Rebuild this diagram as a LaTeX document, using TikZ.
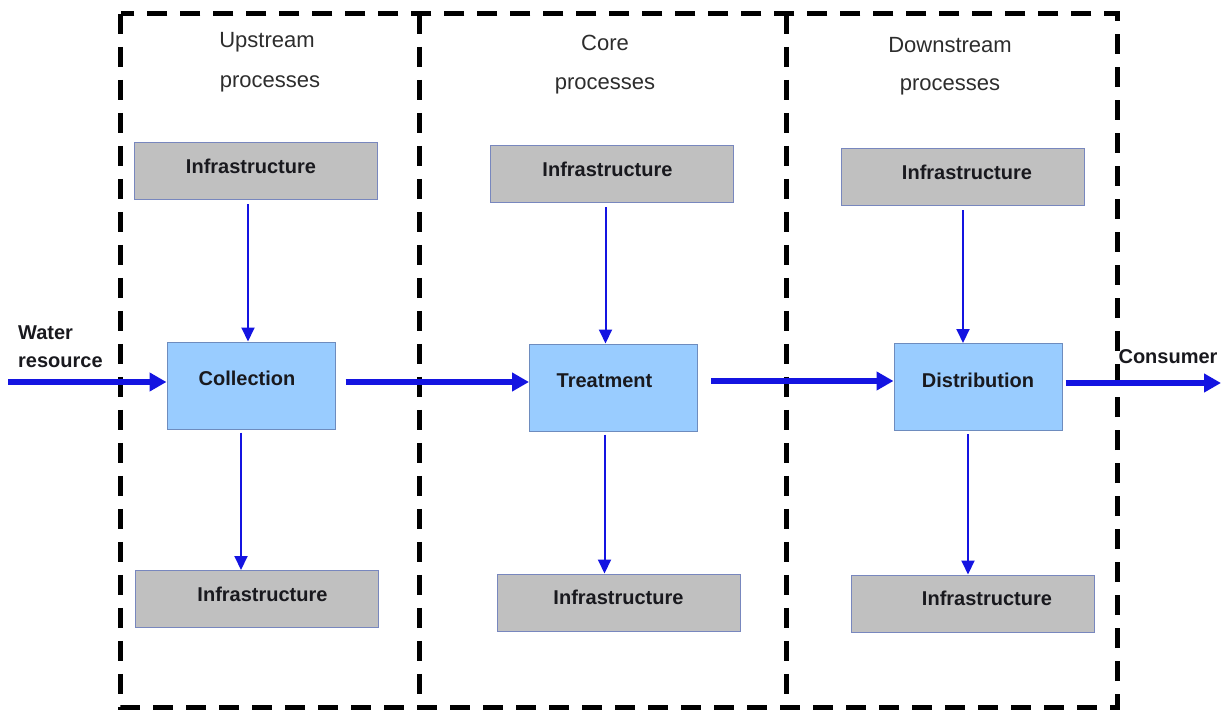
\documentclass[tikz,border=0pt]{standalone}
\usepackage{fontspec}
\setmainfont{Liberation Sans}
\usetikzlibrary{arrows.meta,calc}
\definecolor{flowblue}{RGB}{20,20,225}
\definecolor{infrafill}{RGB}{192,192,192}
\definecolor{infraedge}{RGB}{120,135,190}
\definecolor{procfill}{RGB}{153,204,255}
\definecolor{procedge}{RGB}{110,140,190}
\definecolor{txt}{RGB}{25,25,30}
\definecolor{headtxt}{RGB}{45,45,45}
\tikzset{
  groupbox/.style={inner sep=0pt},
  dashline/.style={draw=black, line width=5pt, dash pattern=on 20pt off 13pt},
  infrabox/.style={draw=infraedge, fill=infrafill, line width=1pt, minimum width=243pt, minimum height=57pt,
    font=\fontsize{20}{24}\selectfont\bfseries, text=txt, text height=14.5pt, text depth=10pt, inner sep=0pt},
  procbox/.style={draw=procedge, fill=procfill, line width=1pt, minimum width=168pt, minimum height=87pt,
    font=\fontsize{20}{24}\selectfont\bfseries, text=txt, text height=14.5pt, text depth=14pt, inner sep=0pt},
  headlbl/.style={font=\fontsize{22}{26}\selectfont, text=headtxt, inner sep=0pt},
  sidelbl/.style={font=\fontsize{20}{28}\selectfont\bfseries, text=txt, inner sep=0pt, align=left},
  flowarrow/.style={draw=flowblue, line width=6pt, -{Triangle[length=17pt,width=18pt]}},
  thinarrow/.style={draw=flowblue, line width=2pt, -{Triangle[length=14pt,width=13pt]}},
}
\begin{document}
\begin{tikzpicture}[x=1pt,y=-1pt]
\useasboundingbox (0,0) rectangle (1223,711);
% process group areas
\node[groupbox, minimum width=298pt, minimum height=693pt] (g1) at (270,360.5) {};
\node[groupbox, minimum width=367pt, minimum height=693pt] (g2) at (602.5,360.5) {};
\node[groupbox, minimum width=331pt, minimum height=693pt] (g3) at (951.5,360.5) {};
\draw[dashline] (g1.north west) rectangle (g3.south east);
\draw[dashline] (g1.north east) -- (g1.south east);
\draw[dashline] (g2.north east) -- (g2.south east);
% headings
\node[headlbl] (h1a) at (267,42) {Upstream};
\node[headlbl] (h1b) at (270,84) {processes};
\node[headlbl] (h2a) at (605,43) {Core};
\node[headlbl] (h2b) at (605,86) {processes};
\node[headlbl] (h3a) at (950,45) {Downstream};
\node[headlbl] (h3b) at (950,87) {processes};
% infrastructure boxes
\node[infrabox] (t1) at (256,171.5) {\hspace*{-10pt}Infrastructure};
\node[infrabox] (t2) at (611.5,174.5) {\hspace*{-8pt}Infrastructure};
\node[infrabox] (t3) at (963,177.5) {\hspace*{8pt}Infrastructure};
\node[infrabox] (b1) at (256.5,599) {\hspace*{12pt}Infrastructure};
\node[infrabox] (b2) at (618.5,602.5) {Infrastructure};
\node[infrabox] (b3) at (973,603.5) {\hspace*{28pt}Infrastructure};
% process boxes
\node[procbox] (coll) at (251,385.5) {\hspace*{-8pt}Collection};
\node[procbox] (treat) at (613.5,387.5) {\hspace*{-18pt}Treatment};
\node[procbox] (dist) at (978,387) {Distribution};
% side labels
\node[sidelbl, anchor=west] (water) at (18,347) {Water\\resource};
\node[sidelbl] (cons) at (1168,357) {Consumer};
% flow coordinates
\coordinate (src) at (8,382);
\coordinate (snk) at (1221,383);
\coordinate (f1) at (0,382);
\coordinate (f2) at (0,381);
% main flow
\draw[flowarrow] (src) -- (src -| coll.west);
\draw[flowarrow] ($(coll.east |- f1)+(10,0)$) -- (treat.west |- f1);
\draw[flowarrow] ($(treat.east |- f2)+(13,0)$) -- (dist.west |- f2);
\draw[flowarrow] ($(dist.east |- snk)+(3,0)$) -- (snk);
% infrastructure links
\draw[thinarrow] ($(t1.south -| coll.north)+(-3,4)$) -- ($(coll.north)+(-3,0)$);
\draw[thinarrow] ($(coll.south)+(-10,3)$) -- ($(coll.south |- b1.north)+(-10,0)$);
\draw[thinarrow] ($(t2.south -| treat.north)+(-8,4)$) -- ($(treat.north)+(-8,0)$);
\draw[thinarrow] ($(treat.south)+(-9,3)$) -- ($(treat.south |- b2.north)+(-9,0)$);
\draw[thinarrow] ($(t3.south -| dist.north)+(-15,4)$) -- ($(dist.north)+(-15,0)$);
\draw[thinarrow] ($(dist.south)+(-10,3)$) -- ($(dist.south |- b3.north)+(-10,0)$);
\end{tikzpicture}
\end{document}
